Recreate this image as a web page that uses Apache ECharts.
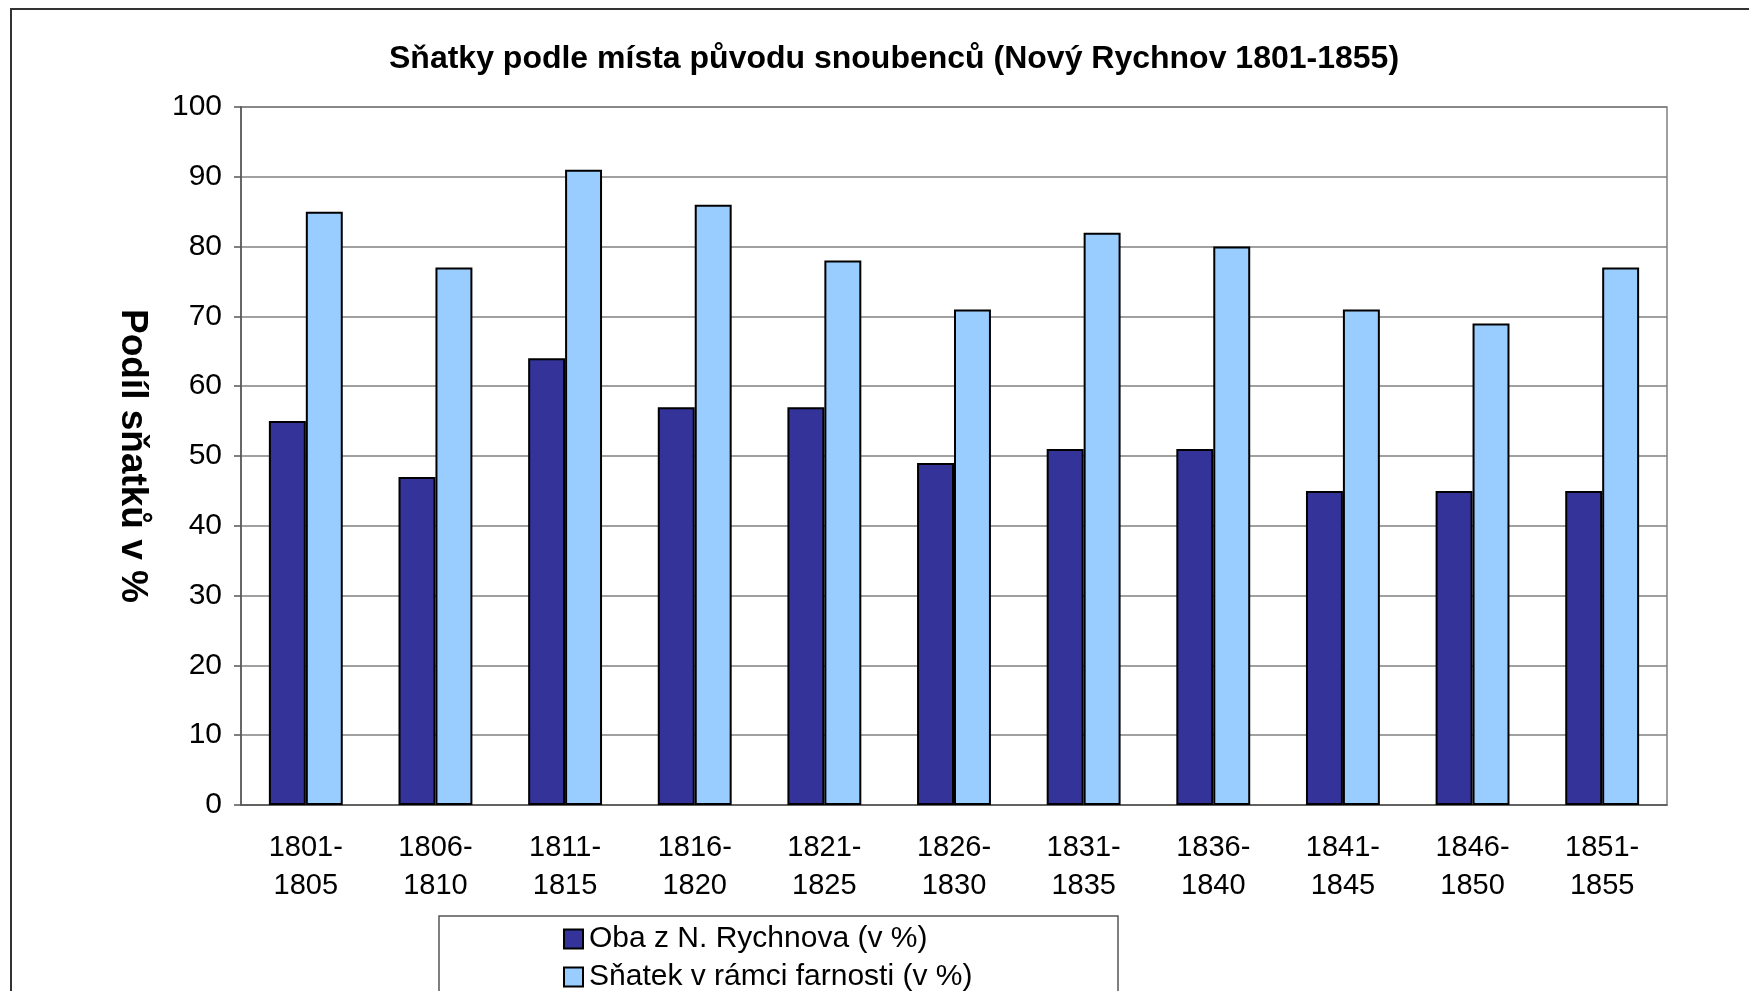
<!DOCTYPE html>
<html lang="cs">
<head>
    <meta charset="UTF-8">
    <title>Sňatky podle místa původu snoubenců</title>
    <script src="https://cdn.jsdelivr.net/npm/echarts@6/dist/echarts.min.js"></script>
    <style>
        html, body { margin: 0; padding: 0; background: #fff; }
        #chartmain { width: 1749px; height: 991px; }
    </style>
</head>
<body>
<div id="chartmain"></div>
<script>
    // data
    var periods = ['1801-\n1805', '1806-\n1810', '1811-\n1815', '1816-\n1820', '1821-\n1825', '1826-\n1830',
        '1831-\n1835', '1836-\n1840', '1841-\n1845', '1846-\n1850', '1851-\n1855'];
    var obaZRychnova = [55, 47, 64, 57, 57, 49, 51, 51, 45, 45, 45];
    var vRamciFarnosti = [85, 77, 91, 86, 78, 71, 82, 80, 71, 69, 77];
    var seriesNames = ['Oba z N. Rychnova (v %)', 'Sňatek v rámci farnosti (v %)'];

    var font = '"Liberation Sans", Arial, sans-serif';

    // one legend per row, stacked like the original box
    function legendRow(name, top) {
        return {
            left: 563,
            top: top,
            padding: 0,
            itemWidth: 19,
            itemHeight: 19,
            icon: 'rect',
            textStyle: {fontFamily: font, fontSize: 30, color: '#000', padding: [0, 0, 0, 1]},
            data: [name]
        };
    }

    var option = {
        backgroundColor: '#fff',
        animation: false,
        title: {
            text: 'Sňatky podle místa původu snoubenců (Nový Rychnov 1801-1855)',
            left: 384,
            top: 38,
            textStyle: {fontFamily: font, fontSize: 32, fontWeight: 'bold', color: '#000'}
        },
        graphic: [
            // outer frame of the chart
            {type: 'rect', shape: {x: 11, y: 9, width: 1800, height: 1100},
                style: {fill: 'none', stroke: '#333', lineWidth: 2}, silent: true},
            // legend frame
            {type: 'rect', shape: {x: 439, y: 916, width: 679, height: 120},
                style: {fill: '#fff', stroke: '#555', lineWidth: 1.5}, silent: true, z: -1}
        ],
        legend: [legendRow(seriesNames[0], 924), legendRow(seriesNames[1], 962)],
        grid: {
            left: 241, right: 82, top: 107, bottom: 186,
            show: true, borderColor: '#808080', borderWidth: 1.5
        },
        xAxis: {
            type: 'category',
            data: periods,
            axisLine: {lineStyle: {color: '#555', width: 1.5}},
            axisTick: {length: 9, lineStyle: {color: '#555', width: 1.5}},
            axisLabel: {fontFamily: font, fontSize: 29, color: '#000', lineHeight: 38, margin: 24}
        },
        yAxis: {
            type: 'value',
            min: 0, max: 100, interval: 10,
            name: 'Podíl sňatků v %',
            nameLocation: 'middle',
            nameRotate: -90,
            nameGap: 90,
            nameTextStyle: {fontFamily: font, fontSize: 37, fontWeight: 'bold', color: '#000'},
            axisLine: {show: true, lineStyle: {color: '#555', width: 1.5}},
            axisTick: {show: true, length: 7, lineStyle: {color: '#555', width: 1.5}},
            axisLabel: {fontFamily: font, fontSize: 30, color: '#000', margin: 19},
            splitLine: {lineStyle: {color: '#808080', width: 1.5}}
        },
        series: [{
            name: seriesNames[0],
            type: 'bar',
            data: obaZRychnova,
            barWidth: '28.5%',
            barGap: '0%',
            itemStyle: {color: '#333399', borderColor: '#000', borderWidth: 2}
        }, {
            name: seriesNames[1],
            type: 'bar',
            data: vRamciFarnosti,
            barWidth: '28.5%',
            itemStyle: {color: '#99CCFF', borderColor: '#000', borderWidth: 2}
        }]
    };

    var myChart = echarts.init(document.getElementById('chartmain'));
    myChart.setOption(option);
</script>
</body>
</html>
